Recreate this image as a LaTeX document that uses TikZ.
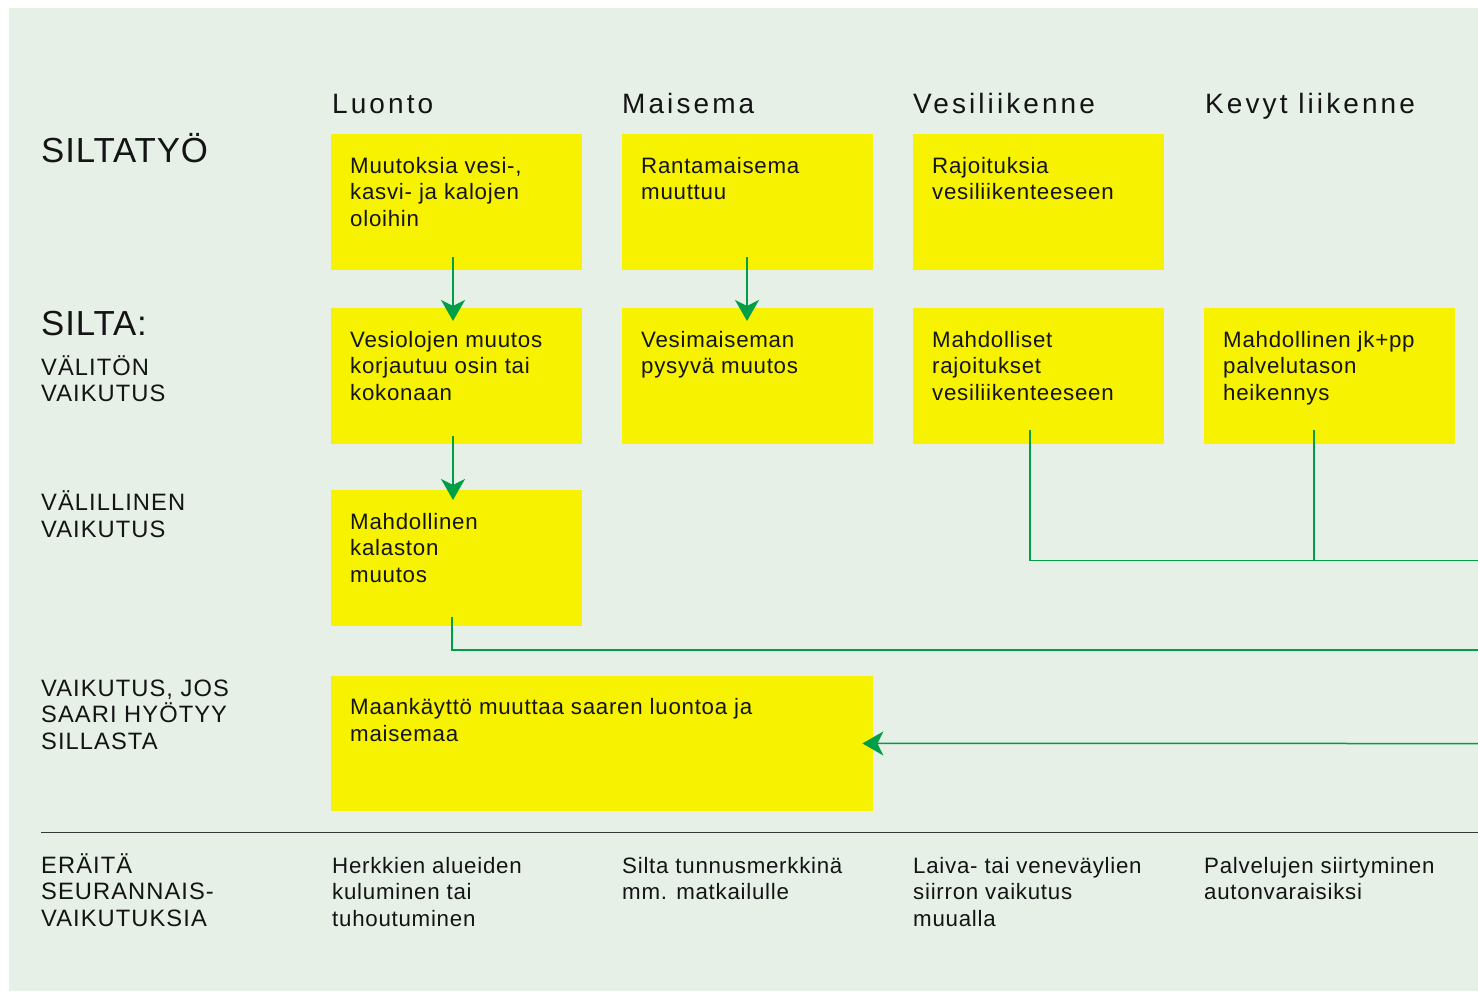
\documentclass[tikz,border=0pt]{standalone}
\usepackage{fontspec}
\setmainfont{Liberation Sans}
\newfontfamily\bodyf[LetterSpace=3.3]{Liberation Sans}
\newfontfamily\headf[LetterSpace=11]{Liberation Sans}
\newfontfamily\labf[LetterSpace=4.5]{Liberation Sans}
\newfontfamily\bigf[LetterSpace=2.6]{Liberation Sans}
\usetikzlibrary{arrows.meta,calc}
\definecolor{bg}{RGB}{230,240,231}
\definecolor{ybox}{RGB}{247,243,0}
\definecolor{grn}{RGB}{0,158,70}
\definecolor{ink}{RGB}{20,20,20}
\begin{document}
\begin{tikzpicture}[x=1pt,y=-1pt,
  boxstyle/.style={fill=ybox,draw=none,minimum width=251pt,minimum height=135.5pt,inner sep=0pt,anchor=north west},
  widebox/.style={boxstyle,minimum width=542pt,minimum height=134.5pt},
  btxt/.style={font=\bodyf\fontsize{22.3}{26.8}\selectfont,text=ink,inner sep=0pt,anchor=base west,align=left},
  headtxt/.style={font=\headf\fontsize{28}{34}\selectfont,text=ink,inner sep=0pt,anchor=base west},
  bigtxt/.style={font=\bigf\fontsize{34.8}{40}\selectfont,text=ink,inner sep=0pt,anchor=base west},
  labtxt/.style={font=\labf\fontsize{23.7}{26.7}\selectfont,text=ink,inner sep=0pt,anchor=base west,align=left},
  conn/.style={draw=grn,line width=1.5pt},
  arr/.style={conn,-{Stealth[length=21pt,width=24pt,inset=6pt]}}
]
\useasboundingbox (0,0) rectangle (1478,991);
\fill[white] (0,0) rectangle (1478,991);
\fill[bg] (9,8) rectangle (1478,991);

% column headers
\node[headtxt] (h1) at (332,113) {Luonto};
\node[headtxt] (h2) at (622,113) {Maisema};
\node[headtxt] (h3) at (913,113) {Vesiliikenne};
\node[headtxt] (h4) at (1205,113) {Kevyt liikenne};

% row labels (anchor = baseline of the last line)
\node[bigtxt] (l1) at (41,162) {SILTATYÖ};
\node[bigtxt] (l2) at (41,335) {SILTA:};
\node[labtxt] (l2b) at (41,401.7) {VÄLITÖN\\VAIKUTUS};
\node[labtxt] (l3) at (41,537.5) {VÄLILLINEN\\VAIKUTUS};
\node[labtxt] (l4) at (41,749.4) {VAIKUTUS, JOS\\SAARI HYÖTYY\\SILLASTA};
\node[labtxt] (l5) at (41,926.4) {ERÄITÄ\\SEURANNAIS-\\VAIKUTUKSIA};

% boxes
\node[boxstyle] (b11) at (331,134) {};
\node[boxstyle] (b12) at (622,134) {};
\node[boxstyle] (b13) at (913,134) {};
\node[boxstyle] (b21) at (331,308) {};
\node[boxstyle] (b22) at (622,308) {};
\node[boxstyle] (b23) at (913,308) {};
\node[boxstyle] (b24) at (1204,308) {};
\node[boxstyle] (b31) at (331,490) {};
\node[widebox] (b41) at (331,676) {};

% box texts (anchor = baseline of the last line)
\node[btxt] (t11) at ($(b11.north west)+(19,92.6)$) {Muutoksia vesi-,\\kasvi- ja kalojen\\oloihin};
\node[btxt] (t12) at ($(b12.north west)+(19,65.8)$) {Rantamaisema\\muuttuu};
\node[btxt] (t13) at ($(b13.north west)+(19,65.8)$) {Rajoituksia\\vesiliikenteeseen};
\node[btxt] (t21) at ($(b21.north west)+(19,92.6)$) {Vesiolojen muutos\\korjautuu osin tai\\kokonaan};
\node[btxt] (t22) at ($(b22.north west)+(19,65.8)$) {Vesimaiseman\\pysyvä muutos};
\node[btxt] (t23) at ($(b23.north west)+(19,92.6)$) {Mahdolliset\\rajoitukset\\vesiliikenteeseen};
\node[btxt] (t24) at ($(b24.north west)+(19,92.6)$) {Mahdollinen jk+pp\\palvelutason\\heikennys};
\node[btxt] (t31) at ($(b31.north west)+(19,92.6)$) {Mahdollinen\\kalaston\\muutos};
\node[btxt] (t41) at ($(b41.north west)+(19,65.2)$) {Maankäyttö muuttaa saaren luontoa ja\\maisemaa};

% bottom row
\node[btxt] (s1) at (332,926.6) {Herkkien alueiden\\kuluminen tai\\tuhoutuminen};
\node[btxt] (s2) at (622,899.8) {Silta tunnusmerkkinä\\mm. matkailulle};
\node[btxt] (s3) at (913,926.6) {Laiva- tai veneväylien\\siirron vaikutus\\muualla};
\node[btxt] (s4) at (1204,899.8) {Palvelujen siirtyminen\\autonvaraisiksi};

% separator
\coordinate (sepL) at (41,832.5);
\coordinate (sepR) at (1478,832.5);
\draw[draw=ink!85,line width=1.5pt] (sepL) -- (sepR);

% arrows
\draw[arr] ($(b11.south west)+(122,-13)$) -- ($(b21.north west)+(122,13)$);
\draw[arr] ($(b12.south west)+(125,-13)$) -- ($(b22.north west)+(125,13)$);
\draw[arr] ($(b21.south west)+(122,-8)$) -- ($(b31.north west)+(122,10)$);

% connectors to the right edge
\coordinate (r1) at (1478,560.5);
\coordinate (r2) at (1478,650);
\coordinate (r3) at (1478,743.5);
\draw[conn] ($(b23.south west)+(117,-14)$) |- (r1);
\draw[conn] ($(b24.south west)+(109.75,-14)$) -- ($(b24.south west)+(109.75,117)$);
\draw[conn] ($(b31.south west)+(121,-9)$) |- (r2);
\draw[arr] (r3) -- ($(b41.east)+(-11,0)$);
\end{tikzpicture}
\end{document}
